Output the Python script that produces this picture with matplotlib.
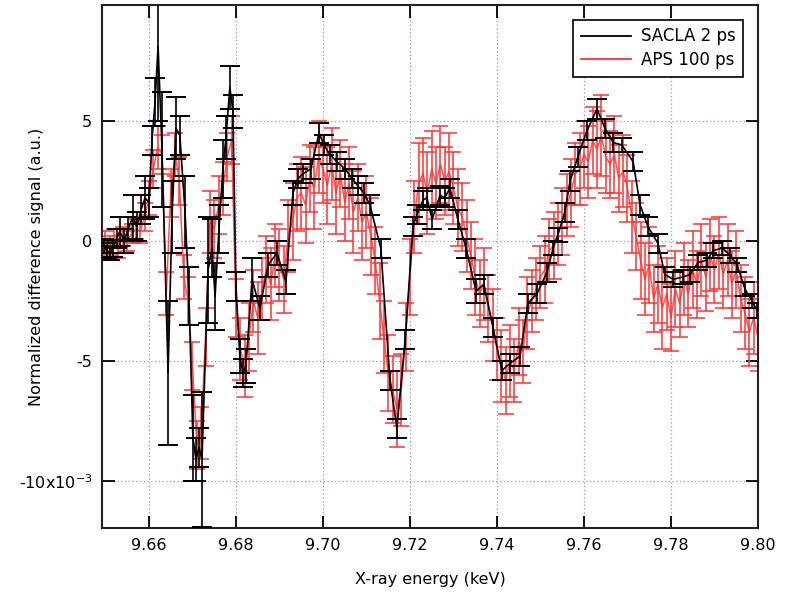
import numpy as np
import matplotlib
matplotlib.use("Agg")
import matplotlib.pyplot as plt
from matplotlib.lines import Line2D

# SACLA 2 ps (black), signal in units of 1e-3
sacla_e = [9.6497, 9.6503, 9.6510, 9.6517, 9.6526, 9.6533, 9.6543, 9.6552, 9.6563, 9.6572,
           9.6582, 9.6591, 9.6600, 9.6607, 9.6614, 9.6621, 9.6630, 9.6644, 9.6653, 9.6662,
           9.6671, 9.6683, 9.6692, 9.6701, 9.6708, 9.6715, 9.6722, 9.6736, 9.6745, 9.6752,
           9.6761, 9.6770, 9.6777, 9.6786, 9.6793, 9.6800, 9.6809, 9.6816, 9.6823, 9.6837,
           9.6855, 9.6874, 9.6894, 9.6915, 9.6931, 9.6943, 9.6954, 9.6972, 9.6991, 9.7002,
           9.7016, 9.7032, 9.7051, 9.7067, 9.7080, 9.7094, 9.7108, 9.7133, 9.7154, 9.7170,
           9.7189, 9.7207, 9.7216, 9.7230, 9.7239, 9.7251, 9.7269, 9.7280, 9.7292, 9.7310,
           9.7329, 9.7352, 9.7370, 9.7391, 9.7411, 9.7430, 9.7453, 9.7471, 9.7492, 9.7515,
           9.7529, 9.7540, 9.7556, 9.7568, 9.7586, 9.7607, 9.7630, 9.7648, 9.7667, 9.7687,
           9.7713, 9.7729, 9.7747, 9.7770, 9.7786, 9.7805, 9.7828, 9.7844, 9.7862, 9.7883,
           9.7897, 9.7918, 9.7936, 9.7952, 9.7970, 9.7986, 9.7998]
sacla_y = [-0.2, -0.4, -0.5, -0.3, 0.1, 0.4, 0.0, 0.5, 1.0, 0.6,
           1.3, 1.8, 1.6, 4.2, 5.8, 8.1, 3.8, -5.5, 1.0, 4.7,
           4.4, 1.2, -2.3, -8.2, -9.1, -8.6, -9.1, -1.2, -0.3, -2.3,
           0.5, 3.0, 4.3, 6.4, 5.4, -1.9, -4.8, -5.5, -5.2, -1.6,
           -2.8, -1.0, -0.5, -1.7, 2.0, 2.6, 2.8, 3.0, 4.5, 4.0,
           3.6, 3.3, 3.0, 2.6, 2.3, 2.0, 1.5, -0.3, -5.8, -7.8,
           -4.1, 0.6, 1.1, 1.7, 1.8, 0.9, 1.9, 1.8, 2.2, 0.9,
           -0.3, -2.1, -1.8, -3.6, -5.4, -5.1, -4.8, -2.6, -2.2, -1.3,
           -0.3, 0.25, 1.2, 2.5, 3.5, 4.6, 5.5, 4.7, 4.1, 4.0,
           3.3, 1.5, 0.6, -0.1, -1.4, -1.6, -1.5, -1.4, -0.9, -0.8,
           -0.4, -0.3, -0.6, -1.0, -2.0, -2.5, -2.9]
sacla_err = [0.3, 0.3, 0.3, 0.35, 0.4, 0.6, 0.5, 0.5, 0.9, 0.6,
             0.6, 0.9, 0.6, 0.6, 1.0, 3.1, 2.4, 3.0, 1.5, 1.3,
             0.8, 1.5, 1.2, 1.8, 0.9, 0.8, 2.8, 2.2, 1.2, 1.4,
             1.0, 1.2, 0.9, 0.9, 0.7, 0.6, 0.7, 0.6, 0.7, 0.9,
             0.5, 0.5, 0.5, 0.5, 0.5, 0.4, 0.4, 0.4, 0.4, 0.4,
             0.4, 0.4, 0.4, 0.4, 0.4, 0.4, 0.4, 0.4, 0.4, 0.4,
             0.4, 0.4, 0.4, 0.4, 0.4, 0.4, 0.4, 0.4, 0.4, 0.4,
             0.4, 0.5, 0.4, 0.4, 0.4, 0.4, 0.4, 0.4, 0.4, 0.4,
             0.3, 0.3, 0.4, 0.4, 0.4, 0.4, 0.4, 0.4, 0.4, 0.3,
             0.4, 0.4, 0.4, 0.4, 0.3, 0.3, 0.3, 0.3, 0.3, 0.3,
             0.3, 0.3, 0.3, 0.3, 0.3, 0.3, 0.3]

# APS 100 ps (red), one point every 1 eV from 9.650 to 9.800 keV
aps_e = np.round(np.arange(9.650, 9.8005, 0.001), 3)
aps_y = [0.0, -0.2, 0.1, -0.3, 0.2, 0.0, 0.3, 0.5, 0.4, 1.0,
         1.8, 3.0, 3.9, 3.6, -2.2, 2.0, 3.6, 2.5, -1.5, -2.5,
         -5.2, -8.5, -8.0, -4.0, 0.8, 0.5, 1.5, 2.2, 3.5, 4.2,
         -2.8, -4.5, -5.2, -4.0, -2.5, -3.2, -2.0, -1.2, -1.8, -0.6,
         -1.0, -1.6, 0.2, 0.8, 1.8, 2.0, 1.5, 2.6, 2.2, 3.5,
         3.0, 2.3, 3.2, 2.0, 2.8, 1.6, 2.4, 1.2, 1.8, 0.8,
         1.2, 0.2, -0.8, -2.5, -4.0, -5.5, -6.2, -7.0, -6.2, -4.0,
         -1.5, 1.0, 2.4, 2.8, 2.0, 3.0, 2.4, 3.2, 2.5, 2.9,
         2.2, 1.4, 1.0, 0.2, -0.6, -1.5, -2.2, -1.8, -2.8, -3.5,
         -4.5, -5.2, -5.8, -5.0, -5.4, -4.2, -4.6, -3.0, -2.5, -2.0,
         -1.5, -1.2, -0.4, -0.2, 0.3, 0.8, 1.5, 2.0, 2.8, 3.0,
         3.6, 3.3, 4.2, 3.8, 4.4, 3.5, 3.2, 3.6, 2.6, 2.9,
         2.2, 1.0, 0.2, -0.8, -1.6, -1.0, -2.4, -1.8, -2.8, -2.2,
         -3.2, -2.0, -2.6, -1.6, -2.2, -1.2, -1.8, -0.8, -1.5, -0.6,
         -1.2, -0.5, -1.4, -0.8, -1.8, -1.2, -2.4, -3.0, -3.8, -3.2,
         -4.0]
aps_err = [0.4, 0.4, 0.4, 0.4, 0.4, 0.4, 0.4, 0.4, 0.5, 0.6,
           0.7, 0.8, 0.9, 0.8, 0.9, 1.0, 0.9, 1.0, 0.9, 1.0,
           1.0, 1.0, 1.1, 1.2, 1.3, 1.2, 1.2, 1.1, 1.0, 1.0,
           1.2, 1.3, 1.3, 1.4, 1.3, 1.5, 1.3, 1.4, 1.5, 1.3,
           1.5, 1.4, 1.5, 1.6, 1.4, 1.5, 1.6, 1.4, 1.7, 1.5,
           1.4, 1.6, 1.5, 1.7, 1.4, 1.6, 1.5, 1.7, 1.4, 1.6,
           1.5, 1.6, 1.4, 1.6, 1.5, 1.6, 1.4, 1.6, 1.5, 1.4,
           1.6, 1.5, 1.7, 1.5, 1.7, 1.6, 1.5, 1.6, 1.4, 1.6,
           1.5, 1.6, 1.4, 1.5, 1.4, 1.6, 1.4, 1.5, 1.4, 1.5,
           1.3, 1.5, 1.4, 1.5, 1.3, 1.4, 1.3, 1.5, 1.3, 1.3,
           1.3, 1.4, 1.3, 1.4, 1.3, 1.4, 1.3, 1.4, 1.3, 1.5,
           1.4, 1.5, 1.4, 1.6, 1.7, 1.5, 1.4, 1.6, 1.4, 1.5,
           1.4, 1.5, 1.4, 1.6, 1.5, 1.6, 1.4, 1.6, 1.7, 1.5,
           1.4, 1.6, 1.4, 1.5, 1.4, 1.6, 1.4, 1.5, 1.4, 1.5,
           1.4, 1.5, 1.4, 1.5, 1.4, 1.6, 1.4, 1.5, 1.4, 1.5,
           1.4]

xticks = [9.66, 9.68, 9.70, 9.72, 9.74, 9.76, 9.78, 9.80]
yticks = [-10, -5, 0, 5]
ytick_labels = ["-10x10$^{-3}$", "-5", "0", "5"]

plt.rcParams["font.family"] = ["DejaVu Sans"]
plt.rcParams["font.size"] = 11

fig = plt.figure(figsize=(7.88, 6.02), dpi=100)
ax = fig.add_axes([0.1294, 0.1229, 0.8325, 0.8688])

red = "#ff3333"
ax.errorbar(aps_e, aps_y, yerr=aps_err, color=red, alpha=0.85, lw=1.1,
            elinewidth=1.3, capsize=6, capthick=1.3, zorder=2)
ax.errorbar(sacla_e, sacla_y, yerr=sacla_err, color="black", lw=1.2,
            elinewidth=1.2, capsize=7, capthick=1.4, zorder=3)

ax.set_xlim(9.6492, 9.8)
ax.set_ylim(-11.96, 9.83)
ax.set_xticks(xticks)
ax.set_xticklabels(["%.2f" % t for t in xticks])
ax.set_yticks(yticks)
ax.set_yticklabels(ytick_labels)
ax.tick_params(direction="in", length=9, width=1.3, top=True, right=True,
               labelsize=11.5, pad=7)
ax.grid(True, color="#8c8cff", linestyle=(0, (1, 2)), linewidth=0.9)
ax.set_axisbelow(True)
for s in ax.spines.values():
    s.set_linewidth(1.5)
    s.set_color("#222222")

ax.set_xlabel("X-ray energy (keV)", labelpad=14, fontsize=11.5)
ax.set_ylabel("Normalized difference signal (a.u.)", fontsize=11.5)
ax.yaxis.set_label_coords(-0.088, 0.5)

handles = [Line2D([], [], color="black", lw=1.3),
           Line2D([], [], color=red, lw=1.3)]
leg = ax.legend(handles, ["SACLA 2 ps", "APS 100 ps"], loc="upper right",
                fancybox=False, edgecolor="black", framealpha=1,
                handlelength=3.0, borderaxespad=0.9, fontsize=12,
                labelspacing=0.35, borderpad=0.45, handletextpad=0.6)
leg.get_frame().set_linewidth(1.2)

fig.savefig("out.png", dpi=100)
